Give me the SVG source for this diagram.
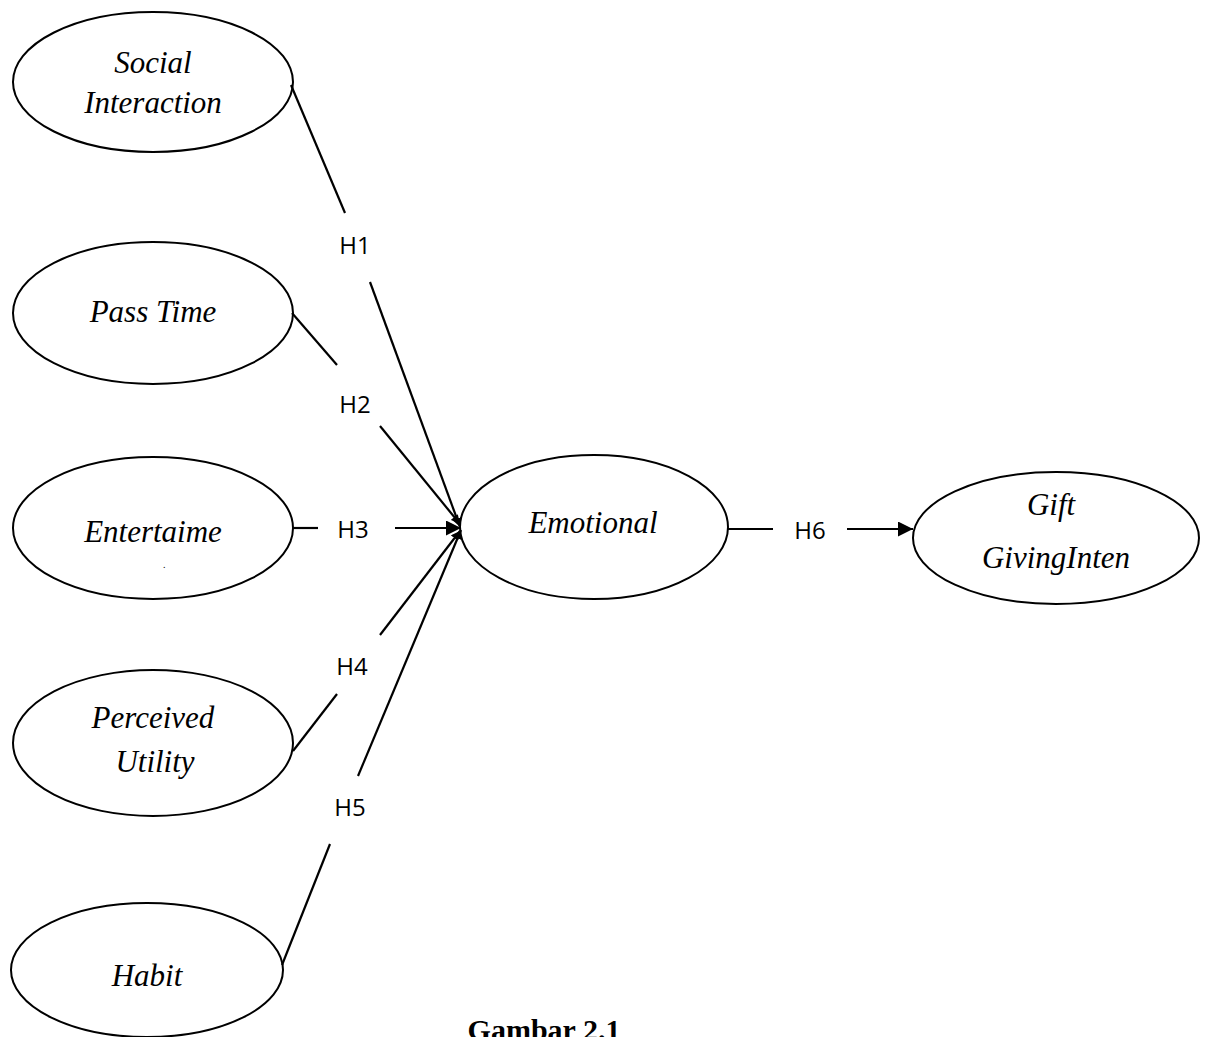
<svg xmlns="http://www.w3.org/2000/svg" width="1206" height="1037" viewBox="0 0 1206 1037">
<style>
.node ellipse{fill:#fff;stroke:#000;stroke-width:2}
.lbl{font-family:"Liberation Serif","Times New Roman",serif;font-style:italic;font-size:31px;text-anchor:middle;fill:#000}
.h{font-family:"Open Sans","Noto Sans",sans-serif;font-size:24px;text-anchor:middle;dominant-baseline:central;fill:#000}
.c line{stroke:#000;stroke-width:2.2}
</style>
<defs>
<marker id="ah" viewBox="0 0 10 10" refX="10" refY="5" markerWidth="9" markerHeight="9" markerUnits="userSpaceOnUse" orient="auto"><path d="M0,0L10,5L0,10z" fill="#000"/></marker>
<marker id="ah2" viewBox="0 0 10 10" refX="10" refY="5" markerWidth="15" markerHeight="15" markerUnits="userSpaceOnUse" orient="auto"><path d="M0,0L10,5L0,10z" fill="#000"/></marker>
</defs>
<rect width="1206" height="1037" fill="#fff"/>
<g id="social-interaction" class="node"><ellipse cx="153" cy="82" rx="140" ry="70"/><text class="lbl" x="153" y="73">Social</text><text class="lbl" x="153" y="113">Interaction</text></g>
<g id="pass-time" class="node"><ellipse cx="153" cy="313" rx="140" ry="71"/><text class="lbl" x="153" y="322">Pass Time</text></g>
<g id="entertaime" class="node"><ellipse cx="153" cy="528" rx="140" ry="71"/><text class="lbl" x="153" y="542">Entertaime</text><text x="163" y="568" font-family="Liberation Serif,serif" font-size="10">.</text></g>
<g id="perceived-utility" class="node"><ellipse cx="153" cy="743" rx="140" ry="73"/><text class="lbl" x="153" y="728">Perceived</text><text class="lbl" x="155" y="772">Utility</text></g>
<g id="habit" class="node"><ellipse cx="147" cy="970" rx="136" ry="67"/><text class="lbl" x="147" y="986">Habit</text></g>
<g id="emotional" class="node"><ellipse cx="594" cy="527" rx="134" ry="72"/><text class="lbl" x="593" y="533">Emotional</text></g>
<g id="gift-giving-intention" class="node"><ellipse cx="1056" cy="538" rx="143" ry="66"/><text class="lbl" x="1051" y="515">Gift</text><text class="lbl" x="1056" y="568">GivingInten</text></g>
<g id="connectors" class="c">
<line x1="291" y1="85" x2="345" y2="213"/><line x1="370" y1="282" x2="460" y2="527" marker-end="url(#ah)"/>
<line x1="292" y1="313" x2="337" y2="365"/><line x1="380" y1="426" x2="460" y2="524" marker-end="url(#ah)"/>
<line x1="293" y1="528" x2="318" y2="528"/><line x1="395" y1="528" x2="461" y2="528" marker-end="url(#ah2)"/>
<line x1="293" y1="751" x2="337" y2="694"/><line x1="380" y1="635" x2="460" y2="531" marker-end="url(#ah)"/>
<line x1="282" y1="965" x2="330" y2="844"/><line x1="358" y1="776" x2="461" y2="530" marker-end="url(#ah)"/>
<line x1="727" y1="529" x2="773" y2="529"/><line x1="847" y1="529" x2="913" y2="529" marker-end="url(#ah2)"/>
<text class="h" x="355" y="244">H1</text>
<text class="h" x="355" y="403">H2</text>
<text class="h" x="353" y="528">H3</text>
<text class="h" x="352" y="665">H4</text>
<text class="h" x="350" y="806">H5</text>
<text class="h" x="810" y="529">H6</text>
</g>
<text x="544" y="1040" font-family="Liberation Serif,serif" font-weight="bold" font-size="30" text-anchor="middle">Gambar 2.1</text>
</svg>
